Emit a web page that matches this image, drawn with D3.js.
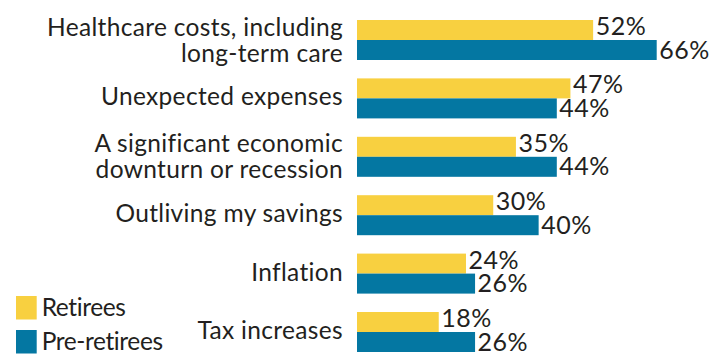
<!DOCTYPE html>
<html>
<head>
<meta charset="utf-8">
<script src="https://cdn.jsdelivr.net/npm/d3@7"></script>
<style>
  html, body { margin: 0; padding: 0; background: #fff; }
  svg { display: block; }
  text { font-family: Lato, "Open Sans", sans-serif; fill: #231f20; }
</style>
</head>
<body>
<svg id="chart" width="713" height="354"></svg>
<script>
// Worries about retirement: share of respondents by group
const categories = [
  ["Healthcare costs, including", "long-term care"],
  ["Unexpected expenses"],
  ["A significant economic", "downturn or recession"],
  ["Outliving my savings"],
  ["Inflation"],
  ["Tax increases"]
];
const retirees = [52, 47, 35, 30, 24, 18];
const preRetirees = [66, 44, 44, 40, 26, 26];
const seriesNames = ["Retirees", "Pre-retirees"];
const colors = ["#f8d040", "#0477a2"];

const svg = d3.select("#chart");

const x = d3.scaleLinear().domain([0, 66]).range([357, 656.7]);
const y = d3.scaleBand()
  .domain(d3.range(categories.length))
  .range([20, 20 + 58.4 * categories.length])
  .align(0);
const barH = 20;

const rows = categories.map((c, i) => ({
  lines: c,
  values: [retirees[i], preRetirees[i]],
  i
}));

const g = svg.selectAll("g.row").data(rows).join("g")
  .attr("class", "row")
  .attr("transform", d => `translate(0,${y(d.i)})`);

// bars: retirees on top, pre-retirees below
g.selectAll("rect").data(d => d.values).join("rect")
  .attr("x", x(0))
  .attr("y", (v, k) => k * barH)
  .attr("width", v => x(v) - x(0))
  .attr("height", barH)
  .attr("fill", (v, k) => colors[k]);

// value labels at the bar ends
g.selectAll("text.val").data(d => d.values).join("text")
  .attr("class", "val")
  .attr("x", v => x(v) + 2.5)
  .attr("y", (v, k) => k === 0 ? barH - 5 : 2 * barH - 1.5)
  .attr("font-size", 25)
  .attr("letter-spacing", 0.5)
  .text(v => v + "%");

// category labels, right-aligned before the bars
g.each(function(d) {
  const t = d3.select(this).append("text")
    .attr("text-anchor", "end")
    .attr("font-size", 24.5)
    .attr("letter-spacing", 0.33);
  const c = barH;
  if (d.lines.length === 1) {
    t.append("tspan").attr("x", 343).attr("y", c + 7).text(d.lines[0]);
  } else {
    t.append("tspan").attr("x", 343).attr("y", c - 4.5).text(d.lines[0]);
    t.append("tspan").attr("x", 343).attr("y", c + 21.5).text(d.lines[1]);
  }
});

// legend
const legend = svg.append("g").attr("transform", "translate(16,296)");
const li = legend.selectAll("g").data(seriesNames).join("g")
  .attr("transform", (s, k) => `translate(0,${k * 34})`);
li.append("rect")
  .attr("width", 20.7)
  .attr("height", 23.5)
  .attr("fill", (s, k) => colors[k]);
li.append("text")
  .attr("x", 25.7)
  .attr("y", 20)
  .attr("font-size", 24.5)
  .attr("letter-spacing", -0.4)
  .text(s => s);
</script>
</body>
</html>
